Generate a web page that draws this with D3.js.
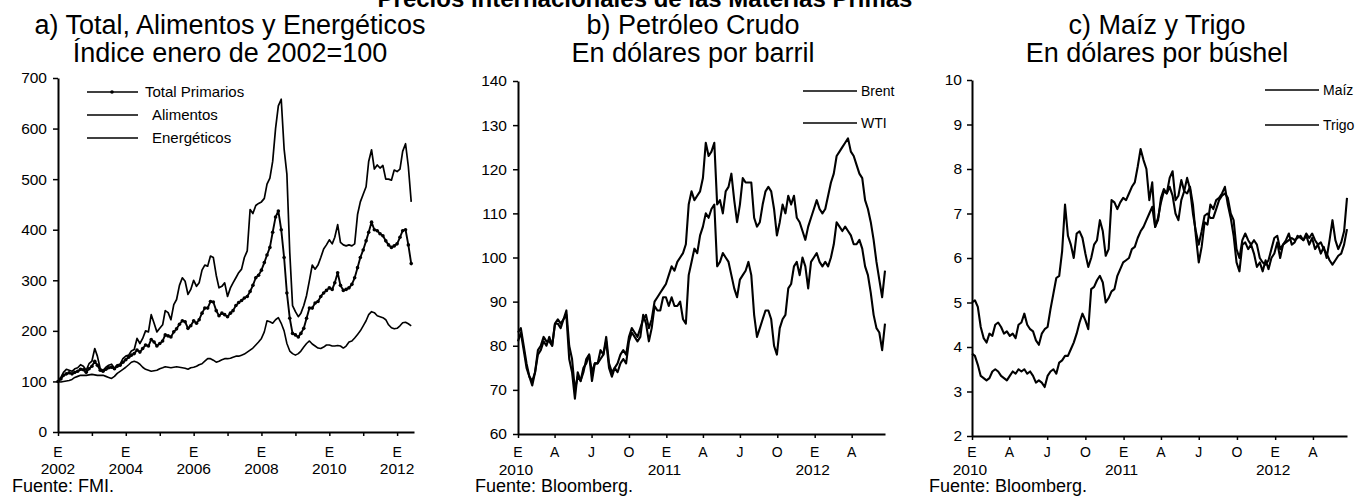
<!DOCTYPE html>
<html>
<head>
<meta charset="utf-8">
<script src="https://cdnjs.cloudflare.com/ajax/libs/d3/7.8.5/d3.min.js"></script>
<style>
body { margin: 0; background: #fff; }
text { font-family: "Liberation Sans", Arial, sans-serif; fill: #000; }
</style>
</head>
<body>
<div id="chart"></div>
<script>
// a) indices mensuales, enero 2002 - junio 2012
var totalPrimarios = [
100,105,112,115,117,115,118,120,124,123,118,125,
130,140,132,122,120,124,127,128,125,130,132,138,
143,148,152,155,162,158,165,172,170,183,178,170,
175,180,192,190,188,198,204,213,220,218,205,210,
220,215,222,235,245,245,258,257,240,230,235,232,
228,235,240,250,256,260,265,268,278,290,305,310,
320,335,350,365,395,425,437,400,345,275,225,195,
192,188,195,205,225,245,245,255,258,268,275,280,
285,282,295,315,290,280,282,285,292,305,325,345,
360,378,395,415,400,398,392,388,378,370,365,368,
372,385,398,400,370,333];
var alimentos = [
100,99,100,101,102,104,108,110,112,112,112,113,
114,113,112,112,112,110,108,106,110,116,120,124,
128,133,138,140,138,134,128,124,122,120,121,122,
125,127,129,128,127,128,129,128,127,126,124,127,
128,130,133,135,140,145,145,142,138,140,143,145,
145,146,148,150,150,152,154,158,162,166,172,178,
185,198,220,218,215,222,226,215,200,175,160,155,
152,155,160,168,175,180,174,170,166,165,168,172,
172,170,170,171,170,166,170,178,180,186,193,200,
210,220,232,238,236,230,228,226,222,212,206,204,
205,210,216,217,214,210];
var energeticos = [
100,108,118,124,122,120,125,127,133,130,122,135,
140,165,150,125,122,128,132,134,126,133,134,145,
150,152,160,163,185,175,185,200,198,232,215,198,
205,212,240,236,222,252,262,290,305,298,272,282,
300,288,295,320,330,328,348,345,310,285,288,295,
268,285,295,305,315,322,345,358,440,432,448,452,
455,462,490,502,535,600,645,658,560,510,355,250,
238,228,235,250,270,300,330,322,330,345,362,370,
380,372,385,410,375,370,368,370,368,372,430,455,
470,485,535,558,520,528,522,527,500,500,498,518,
515,520,555,570,525,455];

// b) y c) datos semanales desde el 1 de enero de 2010
var brent = [
83,84,80,76,73,71,74,78,79,81,
80,82,80,85,86,85,86,88,80,77,
70,73,72,75,76,78,74,76,76,77,
78,82,76,74,75,76,78,79,78,82,
84,83,82,84,86,87,84,86,90,91,
92,93,94,96,98,97,99,100,101,103,
112,115,113,114,115,118,126,123,124,126,
112,113,110,115,116,119,113,108,112,118,
117,117,117,109,107,108,112,115,116,115,
111,105,108,112,110,114,112,114,109,108,
106,104,107,109,111,113,111,110,111,114,
117,119,123,124,125,126,127,124,123,121,
119,118,113,111,108,104,99,95,91,97];
var wti = [
81,83,79,75,73,72,74,79,80,82,
81,81,80,85,85,84,86,87,77,74,
68,74,72,74,77,78,72,76,76,79,
78,81,75,73,75,74,76,77,76,81,
83,82,81,82,87,85,81,84,89,88,
88,91,91,89,91,89,89,90,86,85,
96,99,102,101,105,107,110,109,111,112,
98,99,101,100,99,96,93,91,95,96,
97,99,96,87,82,84,86,88,88,86,
80,78,84,86,87,93,94,98,99,96,
100,98,93,99,100,101,99,98,99,98,
100,103,108,107,106,107,106,105,103,103,
104,102,98,96,92,87,84,83,79,85];
var maiz = [
3.85,3.8,3.6,3.35,3.3,3.25,3.3,3.45,3.5,3.45,
3.35,3.3,3.25,3.35,3.45,3.4,3.5,3.45,3.5,3.4,
3.45,3.35,3.2,3.25,3.2,3.1,3.35,3.45,3.5,3.4,
3.65,3.7,3.8,3.8,3.95,4.1,4.3,4.55,4.75,4.6,
4.4,5.3,5.35,5.5,5.6,5.45,5.0,5.1,5.25,5.3,
5.6,5.75,5.9,5.95,6.0,6.2,6.25,6.45,6.6,6.7,
6.85,7.0,7.15,6.7,6.9,7.25,7.5,7.45,7.6,7.4,
7.0,6.85,7.3,7.5,7.8,7.55,7.0,6.6,6.3,6.6,
6.95,7.0,6.9,6.9,7.1,7.3,7.4,7.45,7.35,7.0,
6.85,6.2,6.0,6.4,6.55,6.4,6.3,6.4,6.3,6.0,
5.9,5.85,5.95,6.2,6.45,6.5,6.2,6.3,6.35,6.4,
6.45,6.4,6.45,6.5,6.4,6.55,6.45,6.55,6.4,6.3,
6.35,6.2,6.1,5.95,5.85,5.95,6.05,6.1,6.3,6.65];
var trigo = [
5.0,5.05,4.9,4.45,4.2,4.1,4.3,4.25,4.5,4.55,
4.45,4.3,4.35,4.25,4.3,4.2,4.5,4.55,4.75,4.5,
4.4,4.35,4.15,4.05,4.3,4.4,4.45,4.85,5.2,5.55,
5.6,6.15,7.2,6.5,6.3,6.0,6.55,6.6,6.45,6.1,
5.8,6.0,6.3,6.4,6.85,6.6,6.05,6.2,7.3,7.25,
7.1,7.25,7.35,7.3,7.45,7.6,7.7,8.05,8.45,8.2,
8.0,7.3,7.7,6.7,6.85,7.35,7.55,7.45,7.8,7.95,
7.3,7.4,7.75,7.5,7.45,7.6,7.2,6.5,5.9,6.25,
6.8,6.75,7.2,7.1,7.3,7.35,7.45,7.6,7.2,6.9,
6.5,5.9,5.7,6.3,6.35,6.2,6.3,6.1,5.8,5.9,
5.7,5.95,5.75,6.0,6.1,6.35,6.0,6.3,6.4,6.55,
6.3,6.35,6.5,6.45,6.4,6.5,6.3,6.45,6.2,6.3,
6.1,6.25,6.0,6.4,6.85,6.4,6.2,6.35,6.6,7.35];

var ticksA = [0,100,200,300,400,500,600,700];
var ticksB = [60,70,80,90,100,110,120,130,140];
var ticksC = [2,3,4,5,6,7,8,9,10];
var aniosA = [2002,2004,2006,2008,2010,2012];
var aniosBC = [2010,2011,2012];
var letrasMes = ["E","A","J","O"];

var svg = d3.select("#chart")
    .append("svg")
    .attr("width", 1362)
    .attr("height", 502);

var fechasMes = totalPrimarios.map(function(d, i) { return d3.timeMonth.offset(new Date(2002, 0, 1), i); });
var fechasSem = brent.map(function(d, i) { return d3.timeDay.offset(new Date(2010, 0, 1), 7 * i); });

// el titulo general queda cortado arriba, como en el original
svg.append("text")
    .attr("x", 645).attr("y", 7)
    .attr("text-anchor", "middle")
    .attr("font-size", "24px")
    .attr("font-weight", "bold")
    .text("Precios Internacionales de las Materias Primas");

function titulo(cx, l1, l2) {
    svg.append("text").attr("x", cx).attr("y", 34).attr("text-anchor", "middle")
        .attr("font-size", "27px").text(l1);
    svg.append("text").attr("x", cx).attr("y", 62).attr("text-anchor", "middle")
        .attr("font-size", "27px").text(l2);
}

function ejeY(x, y, ticks, pad) {
    var g = svg.append("g")
        .attr("transform", "translate(" + x.range()[0] + ",0)")
        .call(d3.axisLeft(y).tickValues(ticks).tickSize(5).tickPadding(pad).tickSizeOuter(0));
    g.select(".domain").attr("stroke-width", 2);
    g.selectAll(".tick line").attr("stroke-width", 1.5);
    g.selectAll("text").attr("font-size", "15.5px").attr("font-family", null);
}

function ejeX(x, y, ticks) {
    var g = svg.append("g")
        .attr("transform", "translate(0," + y.range()[0] + ")")
        .call(d3.axisBottom(x).tickValues(ticks).tickSize(4).tickFormat("").tickSizeOuter(0));
    g.select(".domain").attr("stroke-width", 2);
    g.selectAll(".tick line").attr("stroke-width", 1.5);
}

function linea(x, y, fechas, valores, ancho) {
    var line = d3.line()
        .x(function(d, i) { return x(fechas[i]); })
        .y(function(d) { return y(d); });
    svg.append("path")
        .datum(valores)
        .attr("fill", "none")
        .attr("stroke", "#000")
        .attr("stroke-width", ancho)
        .attr("stroke-linejoin", "round")
        .attr("d", line);
}

// ---- a) Total, Alimentos y Energeticos
var xA = d3.scaleTime().domain([new Date(2002, 0, 1), new Date(2012, 6, 1)]).range([58, 414]);
var yA = d3.scaleLinear().domain([0, 700]).range([432, 78]);

titulo(230, "a) Total, Alimentos y Energéticos", "Índice enero de 2002=100");
ejeY(xA, yA, ticksA, 6);
ejeX(xA, yA, d3.range(2002, 2013).map(function(a) { return new Date(a, 0, 1); }));

aniosA.forEach(function(a) {
    var px = xA(new Date(a, 0, 1));
    svg.append("text").attr("x", px).attr("y", 457).attr("text-anchor", "middle")
        .attr("font-size", "14px").text("E");
    svg.append("text").attr("x", px).attr("y", 474).attr("text-anchor", "middle")
        .attr("font-size", "15.5px").text(a);
});

linea(xA, yA, fechasMes, alimentos, 1.6);
linea(xA, yA, fechasMes, energeticos, 1.7);
linea(xA, yA, fechasMes, totalPrimarios, 1.9);

svg.selectAll(".marca")
    .data(totalPrimarios)
    .enter()
    .append("circle")
    .attr("class", "marca")
    .attr("cx", function(d, i) { return xA(fechasMes[i]); })
    .attr("cy", function(d) { return yA(d); })
    .attr("r", 1.8)
    .attr("fill", "#000");

var leyA = [["Total Primarios", 92, 145], ["Alimentos", 115, 152], ["Energéticos", 138, 152]];
leyA.forEach(function(l, i) {
    svg.append("line").attr("x1", 87).attr("x2", 138).attr("y1", l[1]).attr("y2", l[1])
        .attr("stroke", "#000").attr("stroke-width", 1.7);
    if (i == 0) {
        svg.append("circle").attr("cx", 112).attr("cy", l[1]).attr("r", 1.8).attr("fill", "#000");
    }
    svg.append("text").attr("x", l[2]).attr("y", l[1] + 5).attr("font-size", "15px").text(l[0]);
});

svg.append("text").attr("x", 12).attr("y", 492).attr("font-size", "18px").text("Fuente: FMI.");

// ---- b) Petroleo Crudo y c) Maiz y Trigo
var trimestres = d3.timeMonth.every(3).range(new Date(2010, 0, 1), new Date(2012, 5, 1));

function panelDiario(x0, x1, yTop, yBot, dom, ticks, pad, cx, t1, t2, s1, s2, n1, n2, leyX, leyY) {
    var x = d3.scaleTime().domain([new Date(2010, 0, 1), new Date(2012, 5, 22)]).range([x0, x1]);
    var y = d3.scaleLinear().domain(dom).range([yBot, yTop]);
    titulo(cx, t1, t2);
    ejeY(x, y, ticks, pad);
    ejeX(x, y, trimestres);
    trimestres.forEach(function(f, i) {
        svg.append("text").attr("x", x(f)).attr("y", 457).attr("text-anchor", "middle")
            .attr("font-size", "14px").text(letrasMes[i % 4]);
    });
    aniosBC.forEach(function(a) {
        svg.append("text").attr("x", x(new Date(a, 0, 1)) - 2).attr("y", 475).attr("text-anchor", "middle")
            .attr("font-size", "15.5px").text(a);
    });
    linea(x, y, fechasSem, s2, 2.1);
    linea(x, y, fechasSem, s1, 2.1);
    [n1, n2].forEach(function(n, i) {
        svg.append("line").attr("x1", leyX).attr("x2", leyX + 54).attr("y1", leyY[i]).attr("y2", leyY[i])
            .attr("stroke", "#000").attr("stroke-width", 1.7);
        svg.append("text").attr("x", leyX + 58).attr("y", leyY[i] + 5).attr("font-size", "14px").text(n);
    });
    svg.append("text").attr("x", x0 - 43).attr("y", 492).attr("font-size", "18px").text("Fuente: Bloomberg.");
}

panelDiario(518, 885, 81, 434, [60, 140], ticksB, 6, 693, "b) Petróleo Crudo", "En dólares por barril",
    brent, wti, "Brent", "WTI", 803, [91, 123]);
panelDiario(972, 1347, 80, 436, [2, 10], ticksC, 5, 1157, "c) Maíz y Trigo", "En dólares por búshel",
    maiz, trigo, "Maíz", "Trigo", 1265, [90, 125]);
</script>
</body>
</html>
